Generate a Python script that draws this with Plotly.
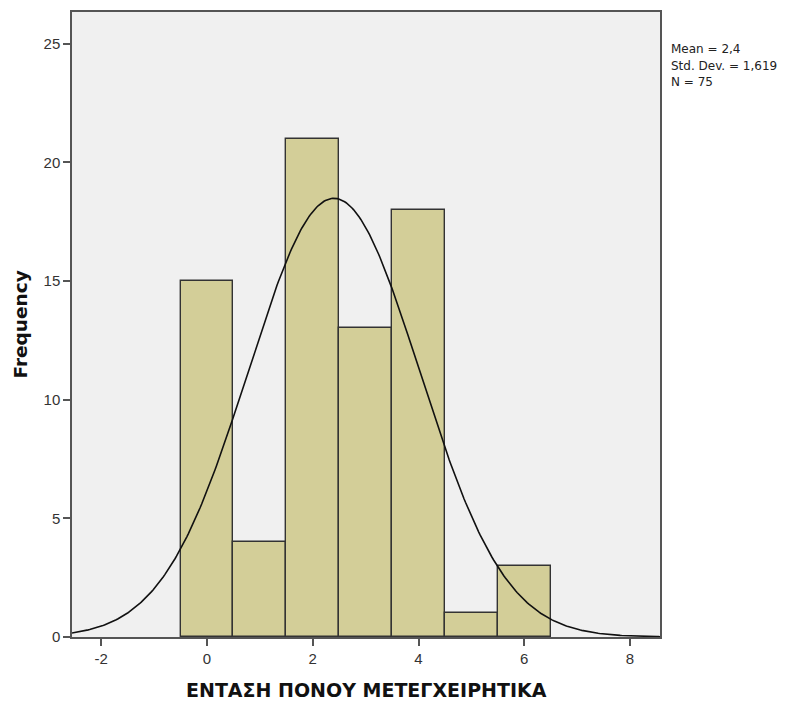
import numpy as np
import plotly.graph_objects as go

bin_centers = [0, 1, 2, 3, 4, 5, 6]
frequencies = [15, 4, 21, 13, 18, 1, 3]
mean_val = 2.4
std_val = 1.619
n_val = 75
bin_width = 1.0
x_range = [-2.554, 8.567]
y_range = [0, 26.33]
x_ticks = [-2, 0, 2, 4, 6, 8]
y_ticks = [0, 5, 10, 15, 20, 25]
x_title = "ΕΝΤΑΣΗ ΠΟΝΟΥ ΜΕΤΕΓΧΕΙΡΗΤΙΚΑ"
y_title = "Frequency"
stats_lines = [
    f"Mean = {str(mean_val).replace('.', ',')}",
    f"Std. Dev. = {str(std_val).replace('.', ',')}",
    f"N = {n_val}",
]

xs = np.linspace(x_range[0], x_range[1], 400)
ys = n_val * bin_width / (std_val * np.sqrt(2 * np.pi)) * np.exp(-0.5 * ((xs - mean_val) / std_val) ** 2)

fig = go.Figure()
fig.add_trace(go.Bar(
    x=bin_centers, y=frequencies, width=bin_width,
    marker=dict(color="#d3ce98", line=dict(color="#333333", width=1.4)),
    showlegend=False, hoverinfo="x+y"))
fig.add_trace(go.Scatter(x=xs, y=ys, mode="lines",
                         line=dict(color="#111111", width=1.6),
                         showlegend=False, hoverinfo="skip"))

axis_common = dict(showgrid=False, zeroline=False, showline=True, linecolor="#555555",
                   linewidth=1.5, mirror=True, ticks="outside", ticklen=7,
                   tickcolor="#555555", tickwidth=1.5, automargin=False,
                   tickfont=dict(family="Arial, Liberation Sans", size=15, color="#333333"))

fig.update_layout(
    width=782, height=694,
    margin=dict(l=64, r=130, t=4, b=65),
    plot_bgcolor="#f0f0f0", paper_bgcolor="white",
    bargap=0,
    xaxis=dict(range=x_range, tickvals=x_ticks, ticktext=[str(v) for v in x_ticks], **axis_common),
    yaxis=dict(range=y_range, tickvals=y_ticks, **axis_common),
)

for i, line in enumerate(stats_lines):
    fig.add_annotation(
        x=1.0, y=1.0, xref="paper", yref="paper", xanchor="left", yanchor="middle",
        xshift=9, yshift=-(37 + 16.5 * i), align="left", showarrow=False, text=line,
        font=dict(family="DejaVu Sans", size=12, color="#222222"))
fig.add_annotation(
    x=0.5, y=0, xref="paper", yref="paper", xanchor="center", yanchor="middle",
    yshift=-53, showarrow=False, text=f"<b>{x_title}</b>",
    font=dict(family="DejaVu Sans", size=19, color="#111111"))
fig.add_annotation(
    x=0, y=0.5, xref="paper", yref="paper", xanchor="center", yanchor="middle",
    xshift=-52, textangle=-90, showarrow=False, text=f"<b>{y_title}</b>",
    font=dict(family="DejaVu Sans", size=18.5, color="#111111"))

fig.write_html("out.html")
